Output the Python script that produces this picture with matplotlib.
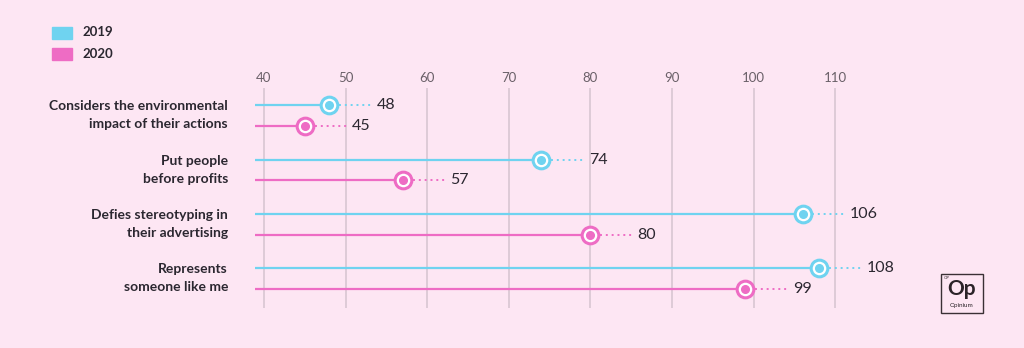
import matplotlib.pyplot as plt
import numpy as np

categories = [
    "Considers the environmental\nimpact of their actions",
    "Put people\nbefore profits",
    "Defies stereotyping in\ntheir advertising",
    "Represents\nsomeone like me",
]
vals_2019 = [48, 74, 106, 108]
vals_2020 = [45, 57, 80, 99]
ticks = [40, 50, 60, 70, 80, 90, 100, 110]

BG = "#fde6f3"
C19 = "#6fd3f0"
C20 = "#ee6cc4"
GRID = "#d8c6d2"
TXT = "#2b2730"

plt.rcParams["font.family"] = ["Lato", "DejaVu Sans"]

fig = plt.figure(figsize=(10.24, 3.48), dpi=100, facecolor=BG)
ax = fig.add_axes([255 / 1024, 1 - 308 / 348, 745 / 1024, 220 / 348])
ax.set_facecolor(BG)
x0 = 40 - 9 / 8.16
ax.set_xlim(x0, 40 + 736 / 8.16)
ax.set_ylim(3.54, -0.51)

for t in ticks:
    ax.axvline(t, color=GRID, lw=1.2, zorder=0)
    ax.text(t, -0.58, str(t), ha="center", va="bottom", fontsize=9.5,
            color="#6a6068", clip_on=False)

off = 0.19
for vals, col, dy in [(vals_2019, C19, -off), (vals_2020, C20, off)]:
    for i, v in enumerate(vals):
        yy = i + dy
        ax.plot([x0, v], [yy, yy], color=col, lw=1.6, solid_capstyle="butt", zorder=2)
        ax.plot([v + 1.2, v + 5.2], [yy, yy], color=col, lw=1.4, ls=(0, (1, 2)), zorder=2)
        ax.plot(v, yy, "o", ms=12, mfc="white", mec=col, mew=2.2, zorder=3)
        ax.plot(v, yy, "o", ms=5.5, mfc=col, mec=col, zorder=4)
        ax.text(v + 5.8, yy, str(v), ha="left", va="center", fontsize=11.5,
                color=TXT, zorder=4)

ax.set_xticks([])
ax.set_yticks([])
for s in ax.spines.values():
    s.set_visible(False)

for i, c in enumerate(categories):
    fig.text(228 / 1024, 1 - (115.5 + i * 54.3) / 348, c, ha="right", va="center",
             fontsize=10, fontweight="bold", color=TXT, linespacing=1.6)

# legend
for (lbl, col, ypx) in [("2019", C19, 32.5), ("2020", C20, 53.5)]:
    fig.patches.append(plt.Rectangle((52 / 1024, 1 - (ypx + 6) / 348), 20 / 1024, 12 / 348,
                                     transform=fig.transFigure, color=col))
    fig.text(82 / 1024, 1 - ypx / 348, lbl, ha="left", va="center", fontsize=9.5,
             fontweight="bold", color=TXT)

# logo
fig.patches.append(plt.Rectangle((941 / 1024, 1 - 313 / 348), 42 / 1024, 39 / 348,
                                 transform=fig.transFigure, fill=False, ec="#3a3035", lw=1))
fig.text(962 / 1024, 1 - 289 / 348, "Op", ha="center", va="center", fontsize=15,
         fontweight="bold", color="#2b2328")
fig.text(962 / 1024, 1 - 306 / 348, "Opinium", ha="center", va="center", fontsize=4.5,
         color="#2b2328")
fig.text(944 / 1024, 1 - 278 / 348, "OP", ha="left", va="center", fontsize=3,
         color="#2b2328")

fig.savefig("out.png", dpi=100, facecolor=BG)
